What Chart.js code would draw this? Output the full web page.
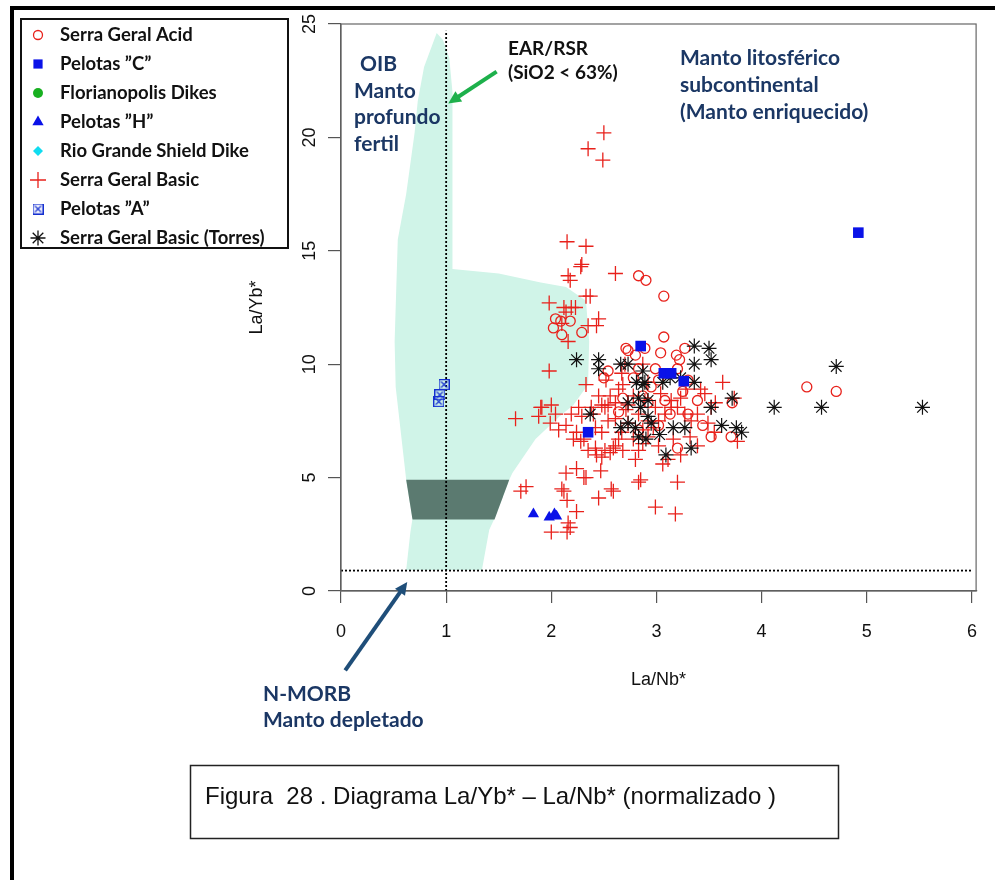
<!DOCTYPE html>
<html>
<head>
<meta charset="utf-8">
<script src="https://cdn.jsdelivr.net/npm/chart.js@4.4.0/dist/chart.umd.min.js"></script>
<style>
  body { margin: 0; background: #fff; }
</style>
</head>
<body>
<canvas id="myChart" width="995" height="880"></canvas>
<script>
// values: [La/Nb*, La/Yb*]
var serraGeralAcid = [
    [2.83, 13.9], [2.90, 13.7], [3.07, 13.0], [2.04, 12.0], [2.09, 11.9], [2.02, 11.6], [2.10, 11.3], [2.18, 11.9],
    [2.29, 11.4], [3.07, 11.2], [2.71, 10.7], [2.89, 10.7], [2.80, 10.4], [3.04, 10.5], [3.27, 10.7], [3.19, 10.4],
    [3.22, 10.2], [2.54, 9.7], [2.50, 9.4], [2.68, 8.5], [2.73, 10.6], [2.83, 9.8], [2.99, 9.8], [3.20, 9.8],
    [4.43, 9.0], [4.71, 8.8], [3.44, 7.3], [3.52, 6.8], [3.71, 6.8], [3.72, 8.3], [3.20, 6.3], [3.25, 8.8],
    [3.13, 7.8], [3.08, 8.4], [2.95, 9.0], [2.92, 8.3], [3.30, 9.3], [3.02, 7.3], [2.83, 7.1], [2.64, 7.9],
    [3.39, 8.4], [3.30, 7.8], [2.78, 9.4], [3.02, 9.3], [2.87, 8.6]
];
var pelotasC = [[4.92, 15.8], [2.85, 10.8], [3.07, 9.6], [3.14, 9.6], [3.26, 9.25], [2.35, 7.0]];
var florianopolisDikes = [];
var pelotasH = [[1.83, 3.4], [1.98, 3.25], [2.03, 3.4], [2.05, 3.3]];
var rioGrandeShieldDike = [];
var serraGeralBasic = [
    [2.35, 19.5], [2.50, 20.2], [2.49, 19.0], [2.15, 15.4], [2.33, 15.2], [2.29, 14.4], [2.28, 14.3], [2.16, 13.9],
    [2.18, 13.7], [2.61, 14.0], [2.37, 13.0], [2.33, 13.0], [1.98, 12.7], [2.12, 12.5], [2.19, 12.5], [2.23, 12.5],
    [2.14, 12.3], [2.45, 12.0], [2.43, 11.7], [2.35, 11.7], [2.10, 11.8], [2.16, 11.0], [1.98, 9.7], [2.33, 9.1],
    [2.52, 9.3], [2.48, 8.2], [2.54, 8.2], [2.00, 8.2], [1.91, 8.1], [2.26, 8.1], [2.38, 8.1], [1.99, 7.4],
    [1.88, 7.7], [2.14, 7.3], [2.19, 7.8], [2.29, 7.7], [2.24, 7.0], [2.31, 6.7], [2.28, 6.6], [2.42, 7.2],
    [2.48, 7.0], [2.51, 8.1], [2.61, 8.3], [2.54, 7.5], [2.64, 6.7], [2.59, 6.3], [2.56, 6.1], [2.43, 6.0],
    [2.48, 5.9], [2.51, 6.2], [2.42, 6.3], [2.47, 5.3], [2.61, 6.4], [2.67, 7.0], [2.73, 7.4], [2.80, 5.8],
    [2.85, 4.9], [2.83, 4.8], [2.14, 5.2], [2.24, 5.4], [2.31, 5.0], [2.33, 5.0], [2.10, 4.5], [2.12, 4.4],
    [2.15, 4.0], [2.24, 3.5], [2.45, 4.1], [2.57, 4.5], [2.59, 4.4], [2.16, 3.0], [2.18, 2.8], [2.00, 2.6],
    [2.15, 2.6], [1.66, 7.6], [1.90, 8.1], [2.04, 7.8], [1.76, 4.6], [1.71, 4.4], [3.20, 4.8], [2.99, 3.7],
    [3.18, 3.4], [3.42, 8.9], [3.46, 8.7], [3.74, 8.5], [3.52, 8.1], [3.56, 8.3], [3.04, 8.7], [3.14, 8.4],
    [3.23, 8.5], [3.28, 8.9], [3.20, 8.1], [2.89, 8.4], [2.99, 8.1], [3.27, 7.8], [3.14, 8.1], [3.08, 7.8],
    [2.92, 6.8], [2.87, 6.5], [2.83, 6.2], [3.23, 6.0], [3.11, 5.8], [3.06, 5.6], [3.55, 7.0], [3.77, 6.6],
    [2.67, 9.6], [2.68, 9.1], [2.64, 8.9], [2.78, 8.6], [2.71, 8.0], [2.83, 7.8], [2.92, 7.5], [2.97, 7.2],
    [3.02, 7.5], [2.87, 7.1], [2.78, 6.7], [2.68, 6.2], [2.73, 8.2], [2.61, 7.6], [2.40, 7.8], [2.35, 6.2],
    [2.21, 6.7], [2.07, 7.1], [2.45, 8.6], [2.56, 8.6], [3.33, 7.5], [3.39, 7.8], [3.49, 7.4], [3.32, 6.8],
    [3.02, 6.4], [3.39, 6.4], [3.16, 6.7], [3.63, 9.2], [2.70, 10.0], [2.87, 10.0], [2.92, 9.2]
];
var pelotasA = [[0.98, 9.1], [0.94, 8.65], [0.93, 8.35]];
var serraGeralTorres = [
    [2.24, 10.2], [2.45, 10.2], [2.45, 9.8], [2.66, 10.0], [2.73, 10.0], [2.87, 9.7], [3.36, 10.8], [3.50, 10.7],
    [3.52, 10.2], [3.36, 10.0], [3.36, 9.2], [2.81, 9.2], [2.89, 9.2], [3.06, 9.2], [3.23, 9.4], [4.71, 9.9],
    [4.12, 8.1], [4.57, 8.1], [5.53, 8.1], [3.72, 8.5], [3.52, 8.1], [3.62, 7.3], [3.76, 7.2], [3.81, 7.0],
    [3.33, 6.3], [3.09, 6.0], [3.16, 7.2], [3.27, 7.2], [3.03, 6.9], [2.95, 7.4], [2.92, 7.7], [2.90, 6.7],
    [2.37, 7.8], [2.66, 7.2], [2.73, 7.4], [2.80, 7.2], [2.73, 8.3], [2.85, 8.1], [2.83, 6.8], [2.87, 9.1],
    [2.83, 8.5], [3.13, 9.4], [2.92, 8.4]
];

// fields and reference lines
var oibField = [
    [0.91, 24.6], [0.97, 24.3], [1.03, 23.5], [1.06, 22.0], [1.06, 14.2], [1.50, 14.0], [1.90, 13.6], [2.14, 13.4],
    [2.33, 12.8], [2.36, 11.0], [2.35, 9.1], [2.21, 8.2], [2.08, 7.7], [1.85, 6.7], [1.63, 5.2], [1.60, 4.9],
    [1.46, 3.2], [1.41, 2.7], [1.34, 0.93], [0.62, 0.93], [0.66, 2.6], [0.68, 3.2], [0.62, 4.9], [0.52, 9.0],
    [0.51, 11.0], [0.54, 15.5], [0.62, 17.5], [0.70, 20.2], [0.73, 21.6], [0.79, 23.1], [0.91, 24.6]
];
var morbBand = [[0.62, 4.9], [1.60, 4.9], [1.46, 3.15], [0.68, 3.15], [0.62, 4.9]];
var earRsrLine = [[1, 0], [1, 24.7]];
var nMorbLine = [[0, 0.9], [6, 0.9]];

var xTicks = [0, 1, 2, 3, 4, 5, 6];
var yTicks = [0, 5, 10, 15, 20, 25];

function pts(arr) {
    return arr.map(function (p) { return { x: p[0], y: p[1] }; });
}

function boxedX(size, color) {
    var c = document.createElement('canvas');
    c.width = size; c.height = size;
    var g = c.getContext('2d');
    g.strokeStyle = color;
    g.lineWidth = 1.2;
    g.strokeRect(0.6, 0.6, size - 1.2, size - 1.2);
    g.beginPath();
    g.moveTo(2.5, 2.5); g.lineTo(size - 2.5, size - 2.5);
    g.moveTo(size - 2.5, 2.5); g.lineTo(2.5, size - 2.5);
    g.stroke();
    return c;
}

var boxedXIcon = boxedX(11, '#1530d0');
var navy = '#1b3764';

var legendRows = [
    { label: 'Serra Geral Acid', style: 'circle', r: 4.5, fill: 'rgba(0,0,0,0)', stroke: '#e8211b', bw: 1.3 },
    { label: 'Pelotas \u201DC\u201D', style: 'rect', r: 6.5, fill: '#0a12e8', stroke: '#0a12e8', bw: 0 },
    { label: 'Florianopolis Dikes', style: 'circle', r: 5, fill: '#18b020', stroke: '#18b020', bw: 0 },
    { label: 'Pelotas \u201DH\u201D', style: 'triangle', r: 6.5, fill: '#0a12e8', stroke: '#0a12e8', bw: 0 },
    { label: 'Rio Grande Shield Dike', style: 'rectRot', r: 5, fill: '#10dcf0', stroke: '#10dcf0', bw: 0 },
    { label: 'Serra Geral Basic', style: 'cross', r: 8, fill: '#e8211b', stroke: '#e8211b', bw: 1.3 },
    { label: 'Pelotas \u201DA\u201D', style: boxedXIcon, r: 5, fill: '#1530d0', stroke: '#1530d0', bw: 0 },
    { label: 'Serra Geral Basic (Torres)', style: 'star', r: 7.5, fill: '#111', stroke: '#111', bw: 1.3 }
];

function arrow(ctx, x1, y1, x2, y2, color) {
    var a = Math.atan2(y2 - y1, x2 - x1);
    var h = 14;
    ctx.save();
    ctx.strokeStyle = color;
    ctx.fillStyle = color;
    ctx.lineWidth = 4;
    ctx.beginPath();
    ctx.moveTo(x1, y1);
    ctx.lineTo(x2 - Math.cos(a) * h * 0.6, y2 - Math.sin(a) * h * 0.6);
    ctx.stroke();
    ctx.beginPath();
    ctx.moveTo(x2, y2);
    ctx.lineTo(x2 - h * Math.cos(a - 0.45), y2 - h * Math.sin(a - 0.45));
    ctx.lineTo(x2 - h * Math.cos(a + 0.45), y2 - h * Math.sin(a + 0.45));
    ctx.closePath();
    ctx.fill();
    ctx.restore();
}

var decor = {
    id: 'decor',
    beforeDraw: function (chart) {
        var ctx = chart.ctx;
        ctx.save();
        ctx.fillStyle = '#fff';
        ctx.fillRect(0, 0, chart.width, chart.height);
        ctx.restore();
    },
    afterDraw: function (chart) {
        var ctx = chart.ctx;
        var a = chart.chartArea;
        var xs = chart.scales.x, ys = chart.scales.y;
        ctx.save();

        // outer frame
        ctx.strokeStyle = '#000';
        ctx.lineWidth = 4;
        ctx.beginPath();
        ctx.moveTo(12, 880); ctx.lineTo(12, 8); ctx.lineTo(995, 8);
        ctx.stroke();

        // plot box
        ctx.strokeStyle = '#666';
        ctx.lineWidth = 1.2;
        ctx.strokeRect(a.left, a.top, a.right - a.left, a.bottom - a.top);

        // legend
        ctx.strokeStyle = '#111';
        ctx.lineWidth = 2;
        ctx.strokeRect(21, 19, 267, 229);
        ctx.font = 'bold 18.5px Lato';
        ctx.textBaseline = 'middle';
        ctx.textAlign = 'left';
        legendRows.forEach(function (row, i) {
            var y = 35 + i * 29;
            ctx.fillStyle = row.fill;
            ctx.strokeStyle = row.stroke;
            ctx.lineWidth = row.bw;
            Chart.helpers.drawPoint(ctx, { pointStyle: row.style, radius: row.r, borderWidth: row.bw, rotation: 0 }, 38, y);
            ctx.fillStyle = '#111';
            ctx.fillText(row.label, 60, y);
        });

        // annotations
        ctx.font = 'bold 21px Lato';
        ctx.fillStyle = navy;
        ctx.fillText('OIB', 360, 64);
        ctx.fillText('Manto', 354, 91);
        ctx.fillText('profundo', 354, 117);
        ctx.fillText('fertil', 354, 144);
        ctx.fillText('Manto litosférico', 680, 58);
        ctx.fillText('subcontinental', 680, 85);
        ctx.fillText('(Manto enriquecido)', 680, 112);
        ctx.fillText('N-MORB', 263, 694);
        ctx.fillText('Manto depletado', 263, 720);
        ctx.font = 'bold 19px Lato';
        ctx.fillStyle = '#111';
        ctx.fillText('EAR/RSR', 508, 49);
        ctx.fillText('(SiO2 < 63%)', 508, 73);

        arrow(ctx, xs.getPixelForValue(1.48), ys.getPixelForValue(22.9),
            xs.getPixelForValue(1.02), ys.getPixelForValue(21.5), '#1db04b');
        arrow(ctx, xs.getPixelForValue(0.04), ys.getPixelForValue(-3.5),
            xs.getPixelForValue(0.63), ys.getPixelForValue(0.4), '#1f4e79');

        // caption
        ctx.strokeStyle = '#222';
        ctx.lineWidth = 1.5;
        ctx.strokeRect(190.5, 765.5, 648, 73);
        ctx.font = '24px "Liberation Sans"';
        ctx.fillStyle = '#111';
        ctx.fillText('Figura  28 . Diagrama La/Yb* \u2013 La/Nb* (normalizado )', 205, 797);
        ctx.restore();
    }
};

var tickFont = { family: 'Liberation Sans', size: 18 };

var ctx1 = document.getElementById('myChart').getContext('2d');
var myChart1 = new Chart(ctx1, {
    type: 'scatter',
    data: {
        datasets: [
            { label: 'Pelotas \u201DC\u201D', data: pts(pelotasC), order: 0, pointStyle: 'rect', pointRadius: 7.5,
              pointBackgroundColor: '#0a12e8', pointBorderColor: '#0a12e8', pointBorderWidth: 0 },
            { label: 'Pelotas \u201DH\u201D', data: pts(pelotasH), order: 1, pointStyle: 'triangle', pointRadius: 6.5,
              pointBackgroundColor: '#0a12e8', pointBorderColor: '#0a12e8', pointBorderWidth: 0 },
            { label: 'Serra Geral Basic (Torres)', data: pts(serraGeralTorres), order: 2, pointStyle: 'star', pointRadius: 7.5,
              pointBackgroundColor: '#111', pointBorderColor: '#111', pointBorderWidth: 1.2 },
            { label: 'Pelotas \u201DA\u201D', data: pts(pelotasA), order: 3, pointStyle: boxedXIcon, pointRadius: 6 },
            { label: 'Serra Geral Basic', data: pts(serraGeralBasic), order: 4, pointStyle: 'cross', pointRadius: 7.5,
              pointBackgroundColor: '#e8211b', pointBorderColor: '#e8211b', pointBorderWidth: 1.3 },
            { label: 'Rio Grande Shield Dike', data: pts(rioGrandeShieldDike), order: 5, pointStyle: 'rectRot', pointRadius: 5,
              pointBackgroundColor: '#10dcf0', pointBorderColor: '#10dcf0' },
            { label: 'Florianopolis Dikes', data: pts(florianopolisDikes), order: 6, pointStyle: 'circle', pointRadius: 5,
              pointBackgroundColor: '#18b020', pointBorderColor: '#18b020' },
            { label: 'Serra Geral Acid', data: pts(serraGeralAcid), order: 7, pointStyle: 'circle', pointRadius: 5,
              pointBackgroundColor: 'rgba(0,0,0,0)', pointBorderColor: '#e8211b', pointBorderWidth: 1.3 },
            { type: 'line', label: 'EAR/RSR', data: pts(earRsrLine), order: 8, showLine: true, fill: false,
              borderColor: '#000', borderWidth: 1.8, borderDash: [2, 2], pointRadius: 0 },
            { type: 'line', label: 'N-MORB', data: pts(nMorbLine), order: 8, showLine: true, fill: false,
              borderColor: '#000', borderWidth: 1.8, borderDash: [2, 2], pointRadius: 0 },
            { type: 'line', label: 'band', data: pts(morbBand), order: 9, showLine: true, fill: 'shape',
              backgroundColor: '#5b7a70', borderColor: 'rgba(0,0,0,0)', borderWidth: 1, pointRadius: 0, tension: 0 },
            { type: 'line', label: 'OIB', data: pts(oibField), order: 10, showLine: true, fill: 'shape',
              backgroundColor: '#d0f4e8', borderColor: 'rgba(0,0,0,0)', borderWidth: 1, pointRadius: 0, tension: 0 }
        ]
    },
    plugins: [decor],
    options: {
        responsive: false,
        animation: false,
        layout: { padding: { left: 245, top: 24, right: 15, bottom: 180 } },
        plugins: {
            legend: { display: false },
            tooltip: { enabled: false },
            filler: { propagate: false, drawTime: 'beforeDatasetsDraw' }
        },
        scales: {
            x: {
                type: 'linear', min: 0, max: 6.04,
                afterBuildTicks: function (s) { s.ticks = xTicks.map(function (v) { return { value: v }; }); },
                afterFit: function (s) { s.height = 109; },
                ticks: { font: tickFont, color: '#111', padding: 18 },
                grid: { drawOnChartArea: false, tickLength: 12, color: '#555', lineWidth: 1.2 },
                border: { color: '#555', width: 1.2 },
                title: { display: true, text: 'La/Nb*', font: tickFont, color: '#111', padding: { top: 0, bottom: 9 } }
            },
            y: {
                type: 'linear', min: 0, max: 25,
                afterBuildTicks: function (s) { s.ticks = yTicks.map(function (v) { return { value: v }; }); },
                afterFit: function (s) { s.width = 96; },
                ticks: { font: tickFont, color: '#111', padding: 8, minRotation: 90, maxRotation: 90, crossAlign: 'center' },
                grid: { drawOnChartArea: false, tickLength: 13, color: '#555', lineWidth: 1.2 },
                border: { color: '#555', width: 1.2 },
                title: { display: true, text: 'La/Yb*', font: tickFont, color: '#111', padding: { top: 1, bottom: 0 } }
            }
        }
    }
});
</script>
</body>
</html>
